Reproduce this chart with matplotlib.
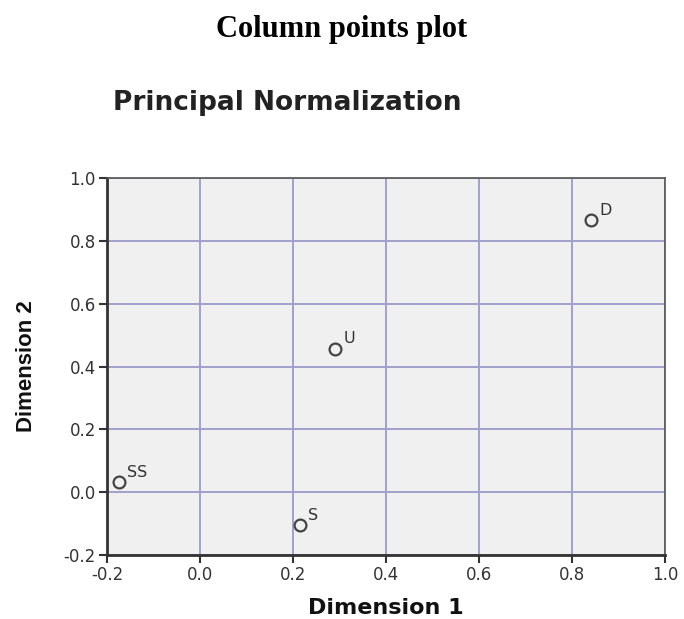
import matplotlib.pyplot as plt

# column points (Dimension 1, Dimension 2)
labels = ["D", "U", "SS", "S"]
dim1 = [0.84, 0.29, -0.175, 0.215]
dim2 = [0.865, 0.457, 0.032, -0.105]

ticks = [-0.2, 0.0, 0.2, 0.4, 0.6, 0.8, 1.0]

fig = plt.figure(figsize=(6.84, 6.19), dpi=100)
ax = fig.add_axes([0.1564, 0.1034, 0.816, 0.609])
ax.set_facecolor("#f0f0f0")

ax.plot(dim1, dim2, "o", markersize=8.5, markerfacecolor="none",
        markeredgecolor="#444444", markeredgewidth=1.6, zorder=3)
for lab, x, y in zip(labels, dim1, dim2):
    ax.annotate(lab, (x, y), xytext=(6, 4), textcoords="offset points",
                fontsize=11.5, color="#333333", family="DejaVu Sans")

ax.set_xlim(-0.2, 1.0)
ax.set_ylim(-0.2, 1.0)
ax.set_xticks(ticks)
ax.set_yticks(ticks)
ax.set_xticklabels([f"{t:.1f}" for t in ticks])
ax.set_yticklabels([f"{t:.1f}" for t in ticks])
ax.grid(True, color="#a0a0cc", linewidth=1.4)
ax.set_axisbelow(True)
ax.tick_params(direction="out", length=6, width=1.5, color="#333333",
               labelsize=12, labelcolor="#333333", pad=2)
for lab in ax.get_xticklabels() + ax.get_yticklabels():
    lab.set_family("DejaVu Sans")
for s in ax.spines.values():
    s.set_linewidth(1.2)
    s.set_color("#555555")
ax.spines["left"].set_linewidth(2)
ax.spines["bottom"].set_linewidth(2)
ax.spines["left"].set_color("#333333")
ax.spines["bottom"].set_color("#333333")

ax.set_xlabel("Dimension 1", fontsize=16, fontweight="bold",
              family="DejaVu Sans", color="#111111")
ax.set_ylabel("Dimension 2", fontsize=16, fontweight="bold",
              family="Liberation Sans", color="#111111")
ax.xaxis.set_label_coords(0.5, -0.115)
ax.yaxis.set_label_coords(-0.125, 0.5)

fig.text(0.5, 0.953, "Column points plot", ha="center", va="center",
         fontsize=22, fontweight="bold", family="Liberation Serif")
fig.text(0.165, 0.833, "Principal Normalization", ha="left", va="center",
         fontsize=19, fontweight="bold", family="DejaVu Sans", color="#222222")

fig.savefig("out.png", dpi=100)
